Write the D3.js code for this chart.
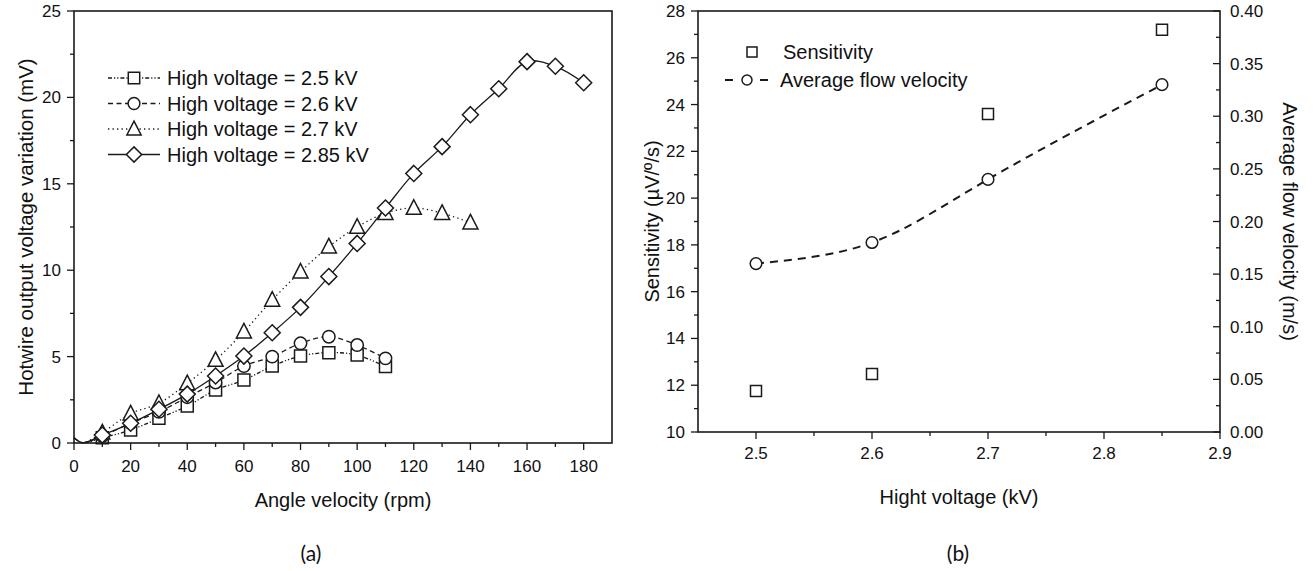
<!doctype html>
<html>
  <head>
    <meta charset="utf-8">
    <title>Hotwire</title>
    <script src="https://cdn.jsdelivr.net/npm/d3@7/dist/d3.min.js"></script>
    <style>
      body { margin: 0; background: #fff; }
      text { font-family: "Liberation Sans", Arial, sans-serif; fill: #111; }
    </style>
  </head>
  <body>
    <script>
      // (a) angle velocity vs output voltage variation
      const rpm = [10, 20, 30, 40, 50, 60, 70, 80, 90, 100, 110, 120, 130, 140, 150, 160, 170, 180];
      const hv25 = [0.3, 0.75, 1.43, 2.14, 3.07, 3.64, 4.45, 5.03, 5.23, 5.09, 4.42];
      const hv26 = [0.4, 1.15, 1.8, 2.65, 3.5, 4.45, 5.0, 5.77, 6.15, 5.67, 4.9];
      const hv27 = [0.6, 1.7, 2.3, 3.45, 4.8, 6.44, 8.28, 9.91, 11.36, 12.5, 13.3, 13.6, 13.3, 12.75];
      const hv285 = [0.46, 1.14, 1.95, 2.83, 3.88, 5.03, 6.38, 7.85, 9.63, 11.55, 13.6, 15.6, 17.15, 19.0, 20.5, 22.07, 21.8, 20.85];
      // start of the fitted curves (no markers there)
      const leadRpm = [0, 3];
      const leadValue = [0.3, 0.02];
      const legendA = ['High voltage = 2.5 kV', 'High voltage = 2.6 kV', 'High voltage = 2.7 kV', 'High voltage = 2.85 kV'];
      const ticksA_x = [0, 20, 40, 60, 80, 100, 120, 140, 160, 180];
      const ticksA_y = [0, 5, 10, 15, 20, 25];

      // (b) high voltage vs sensitivity / flow velocity
      const hv = [2.5, 2.6, 2.7, 2.85];
      const sensitivity = [11.75, 12.48, 23.6, 27.2];
      const flowVelocity = [0.16, 0.18, 0.24, 0.33];
      const ticksB_x = [2.5, 2.6, 2.7, 2.8, 2.9];
      const ticksB_yl = [10, 12, 14, 16, 18, 20, 22, 24, 26, 28];
      const ticksB_yr = [0, 0.05, 0.10, 0.15, 0.20, 0.25, 0.30, 0.35, 0.40];

      const width = 1315, height = 571;
      const ink = '#1a1a1a';

      const svg = d3.select('body').append('svg')
          .attr('width', width)
          .attr('height', height);

      // marker shapes
      const sym = {
        square: (s) => `M${-s/2},${-s/2}H${s/2}V${s/2}H${-s/2}Z`,
        circle: (r) => `M${-r},0A${r},${r} 0 1,0 ${r},0A${r},${r} 0 1,0 ${-r},0Z`,
        triangle: (s) => `M0,${-s*0.55}L${s/2},${s*0.42}L${-s/2},${s*0.42}Z`,
        diamond: (s) => `M0,${-s/2}L${s/2},0L0,${s/2}L${-s/2},0Z`
      };

      function drawTicks(g, scale, values, orient, len) {
        values.forEach(v => {
          const p = scale(v);
          const l = g.append('line').attr('stroke', ink).attr('stroke-width', 1.3);
          if (orient === 'bottom') l.attr('x1', p).attr('x2', p).attr('y1', 0).attr('y2', len);
          if (orient === 'left') l.attr('y1', p).attr('y2', p).attr('x1', 0).attr('x2', -len);
          if (orient === 'rightIn') l.attr('y1', p).attr('y2', p).attr('x1', 0).attr('x2', -len);
        });
      }

      // ---------------- (a) ----------------
      const A = { left: 74, top: 11, right: 612, bottom: 443 };
      const xA = d3.scaleLinear().domain([0, 190]).range([A.left, A.right]);
      const yA = d3.scaleLinear().domain([0, 25]).range([A.bottom, A.top]);

      const seriesA = [
        { values: hv25, shape: 'square', size: 12, dash: '4,2,1.2,2,1.2,2' },
        { values: hv26, shape: 'circle', size: 6.2, dash: '5,3.5' },
        { values: hv27, shape: 'triangle', size: 15, dash: '1.3,3.2' },
        { values: hv285, shape: 'diamond', size: 16, dash: null }
      ];

      const lineA = d3.line()
          .x(d => xA(d[0]))
          .y(d => yA(d[1]))
          .curve(d3.curveCatmullRom.alpha(0.5));

      const gA = svg.append('g');

      seriesA.forEach(s => {
        const pts = leadRpm.map((r, i) => [r, leadValue[i]])
          .concat(s.values.map((v, i) => [rpm[i], v]));
        gA.append('path')
            .attr('d', lineA(pts))
            .attr('fill', 'none')
            .attr('stroke', ink)
            .attr('stroke-width', 1.3)
            .attr('stroke-dasharray', s.dash);
      });
      seriesA.forEach(s => {
        gA.append('g').selectAll('path')
          .data(s.values)
          .join('path')
            .attr('transform', (d, i) => `translate(${xA(rpm[i])},${yA(d)})`)
            .attr('d', sym[s.shape](s.size))
            .attr('fill', '#fff')
            .attr('stroke', ink)
            .attr('stroke-width', 1.5);
      });

      // frame
      gA.append('rect')
          .attr('x', A.left).attr('y', A.top)
          .attr('width', A.right - A.left).attr('height', A.bottom - A.top)
          .attr('fill', 'none').attr('stroke', ink).attr('stroke-width', 1.6);

      const axA_b = gA.append('g').attr('transform', `translate(0,${A.bottom})`);
      drawTicks(axA_b, xA, ticksA_x, 'bottom', 7);
      drawTicks(axA_b, xA, d3.range(10, 190, 20), 'bottom', 4);
      axA_b.selectAll('text.tk').data(ticksA_x).join('text')
          .attr('class', 'tk')
          .attr('x', d => xA(d)).attr('y', 29)
          .attr('text-anchor', 'middle')
          .attr('font-size', 17)
          .text(d => d);

      const axA_l = gA.append('g').attr('transform', `translate(${A.left},0)`);
      drawTicks(axA_l, yA, ticksA_y, 'left', 7);
      drawTicks(axA_l, yA, d3.range(2.5, 25, 5), 'left', 4);
      axA_l.selectAll('text.tk').data(ticksA_y).join('text')
          .attr('class', 'tk')
          .attr('x', -13).attr('y', d => yA(d) + 6)
          .attr('text-anchor', 'end')
          .attr('font-size', 17)
          .text(d => d);

      gA.append('text')
          .attr('x', (A.left + A.right) / 2).attr('y', 507)
          .attr('text-anchor', 'middle')
          .attr('font-size', 20)
          .text('Angle velocity (rpm)');

      gA.append('text')
          .attr('transform', `translate(33,${(A.top + A.bottom) / 2}) rotate(-90)`)
          .attr('text-anchor', 'middle')
          .attr('font-size', 20.5)
          .text('Hotwire output voltage variation (mV)');

      // legend (a)
      const legA = gA.append('g');
      seriesA.forEach((s, i) => {
        const y = 78 + i * 25.5;
        legA.append('line')
            .attr('x1', 108).attr('x2', 160).attr('y1', y).attr('y2', y)
            .attr('stroke', ink).attr('stroke-width', 1.3)
            .attr('stroke-dasharray', s.dash);
        legA.append('path')
            .attr('transform', `translate(134,${y})`)
            .attr('d', sym[s.shape](s.size * 0.95))
            .attr('fill', '#fff').attr('stroke', ink).attr('stroke-width', 1.5);
        legA.append('text')
            .attr('x', 167).attr('y', y + 7)
            .attr('font-size', 20)
            .text(legendA[i]);
      });

      svg.append('text')
          .attr('x', 311).attr('y', 561)
          .attr('text-anchor', 'middle')
          .attr('font-size', 21)
          .style('font-family', 'Lato, "Open Sans", sans-serif')
          .text('(a)');

      // ---------------- (b) ----------------
      const B = { left: 698, top: 11, right: 1220, bottom: 432 };
      const xB = d3.scaleLinear().domain([2.45, 2.9]).range([B.left, B.right]);
      const yBl = d3.scaleLinear().domain([10, 28]).range([B.bottom, B.top]);
      const yBr = d3.scaleLinear().domain([0, 0.4]).range([B.bottom, B.top]);

      const gB = svg.append('g');

      const lineB = d3.line()
          .x((d, i) => xB(hv[i]))
          .y(d => yBr(d))
          .curve(d3.curveNatural);

      gB.append('path')
          .attr('d', lineB(flowVelocity))
          .attr('fill', 'none')
          .attr('stroke', ink)
          .attr('stroke-width', 2)
          .attr('stroke-dasharray', '8,6');

      gB.append('g').selectAll('path')
        .data(sensitivity)
        .join('path')
          .attr('transform', (d, i) => `translate(${xB(hv[i])},${yBl(d)})`)
          .attr('d', sym.square(11))
          .attr('fill', '#fff').attr('stroke', ink).attr('stroke-width', 1.5);

      gB.append('g').selectAll('path')
        .data(flowVelocity)
        .join('path')
          .attr('transform', (d, i) => `translate(${xB(hv[i])},${yBr(d)})`)
          .attr('d', sym.circle(5.8))
          .attr('fill', '#fff').attr('stroke', ink).attr('stroke-width', 1.5);

      gB.append('rect')
          .attr('x', B.left).attr('y', B.top)
          .attr('width', B.right - B.left).attr('height', B.bottom - B.top)
          .attr('fill', 'none').attr('stroke', ink).attr('stroke-width', 1.6);

      const axB_b = gB.append('g').attr('transform', `translate(0,${B.bottom})`);
      drawTicks(axB_b, xB, ticksB_x, 'bottom', 7);
      drawTicks(axB_b, xB, [2.55, 2.65, 2.75, 2.85], 'bottom', 4);
      axB_b.selectAll('text.tk').data(ticksB_x).join('text')
          .attr('class', 'tk')
          .attr('x', d => xB(d)).attr('y', 27)
          .attr('text-anchor', 'middle')
          .attr('font-size', 17)
          .text(d => d3.format('.1f')(d));

      const axB_l = gB.append('g').attr('transform', `translate(${B.left},0)`);
      drawTicks(axB_l, yBl, ticksB_yl, 'left', 7);
      drawTicks(axB_l, yBl, d3.range(11, 28, 2), 'left', 4);
      axB_l.selectAll('text.tk').data(ticksB_yl).join('text')
          .attr('class', 'tk')
          .attr('x', -13).attr('y', d => yBl(d) + 6)
          .attr('text-anchor', 'end')
          .attr('font-size', 17)
          .text(d => d);

      const axB_r = gB.append('g').attr('transform', `translate(${B.right},0)`);
      drawTicks(axB_r, yBr, ticksB_yr, 'rightIn', 7);
      drawTicks(axB_r, yBr, d3.range(0.025, 0.4, 0.05), 'rightIn', 4);
      axB_r.selectAll('text.tk').data(ticksB_yr).join('text')
          .attr('class', 'tk')
          .attr('x', 10).attr('y', d => yBr(d) + 6)
          .attr('text-anchor', 'start')
          .attr('font-size', 17)
          .text(d => d3.format('.2f')(d));

      gB.append('text')
          .attr('x', (B.left + B.right) / 2).attr('y', 504)
          .attr('text-anchor', 'middle')
          .attr('font-size', 20)
          .text('Hight voltage (kV)');

      gB.append('text')
          .attr('transform', `translate(659,${(B.top + B.bottom) / 2}) rotate(-90)`)
          .attr('text-anchor', 'middle')
          .attr('font-size', 20)
          .text('Sensitivity (µV/º/s)');

      gB.append('text')
          .attr('transform', `translate(1283,${(B.top + B.bottom) / 2}) rotate(90)`)
          .attr('text-anchor', 'middle')
          .attr('font-size', 20)
          .text('Average flow velocity (m/s)');

      // legend (b)
      const legB = gB.append('g');
      legB.append('path')
          .attr('transform', 'translate(752,52)')
          .attr('d', sym.square(10))
          .attr('fill', '#fff').attr('stroke', ink).attr('stroke-width', 1.5);
      legB.append('text')
          .attr('x', 783).attr('y', 59)
          .attr('font-size', 20)
          .text('Sensitivity');
      [[725, 733], [760, 768]].forEach(seg => {
        legB.append('line')
            .attr('x1', seg[0]).attr('x2', seg[1]).attr('y1', 80).attr('y2', 80)
            .attr('stroke', ink).attr('stroke-width', 2);
      });
      legB.append('path')
          .attr('transform', 'translate(747,80)')
          .attr('d', sym.circle(5))
          .attr('fill', '#fff').attr('stroke', ink).attr('stroke-width', 1.5);
      legB.append('text')
          .attr('x', 780).attr('y', 87)
          .attr('font-size', 20)
          .text('Average flow velocity');

      svg.append('text')
          .attr('x', 958).attr('y', 561)
          .attr('text-anchor', 'middle')
          .attr('font-size', 21)
          .style('font-family', 'Lato, "Open Sans", sans-serif')
          .text('(b)');
    </script>
  </body>
</html>
